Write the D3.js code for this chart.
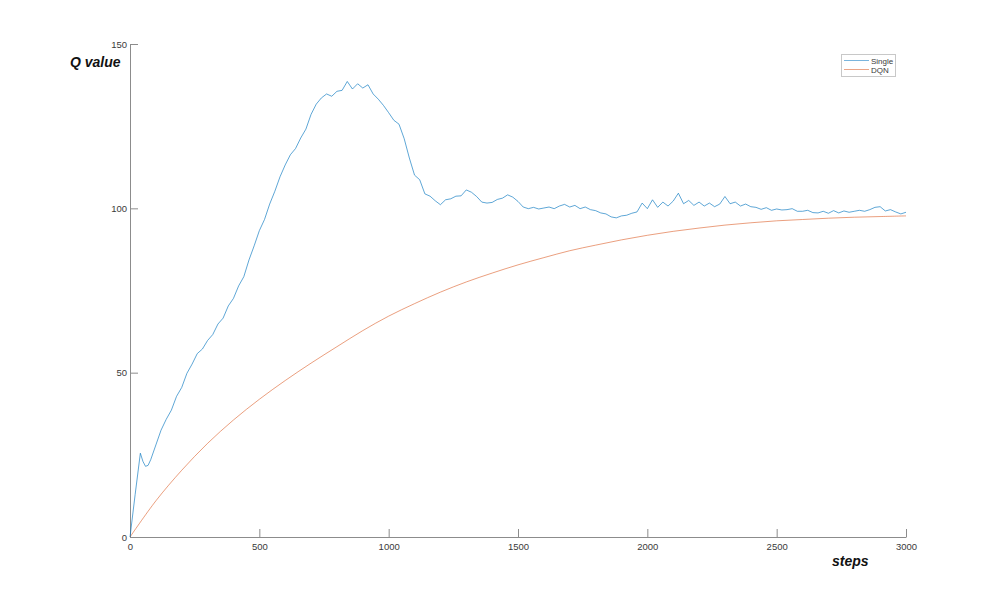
<!DOCTYPE html>
<html>
<head>
<meta charset="utf-8">
<script src="https://cdn.jsdelivr.net/npm/d3@7"></script>
<style>
html,body{margin:0;padding:0;background:#fff;}
svg{display:block;font-family:"Liberation Sans",Arial,sans-serif;}
</style>
</head>
<body>
<svg id="chart" width="1000" height="604"></svg>
<script>
// ---- data ----
const singleSteps = [0,20,40,50,60,70,80,100,120,140,160,180,200,220,240,260,280,300,320,340,360,380,400,420,440,460,480,500,520,540,560,580,600,620,640,660,680,700,720,740,760,780,800,820,840,860,880,900,920,940,960,980,1000,1020,1040,1060,1080,1100,1120,1140,1160,1180,1200,1220,1240,1260,1280,1300,1320,1340,1360,1380,1400,1420,1440,1460,1480,1500,1520,1540,1560,1580,1600,1620,1640,1660,1680,1700,1720,1740,1760,1780,1800,1820,1840,1860,1880,1900,1920,1940,1960,1980,2000,2020,2040,2060,2080,2100,2120,2140,2160,2180,2200,2220,2240,2260,2280,2300,2320,2340,2360,2380,2400,2420,2440,2460,2480,2500,2520,2540,2560,2580,2600,2620,2640,2660,2680,2700,2720,2740,2760,2780,2800,2820,2840,2860,2880,2900,2920,2940,2960,2980,3000];
const singleQ = [0,13,25.5,23,21.5,21.8,23.5,28,32.5,35.8,38.6,42.8,45.5,49.8,52.6,55.8,57.2,59.8,61.6,64.8,66.6,70.3,72.6,76.4,79.2,84.3,88.6,93.2,96.6,101.3,105.2,109.6,113.2,116.3,118.2,121.4,124.1,128.6,131.7,133.6,134.8,134.1,135.6,135.9,138.6,136.3,137.9,136.6,137.6,134.8,133.2,131.3,129.1,126.8,125.6,121.2,115.3,110.1,108.7,104.4,103.7,102.3,101.1,102.6,102.9,103.7,103.8,105.6,104.9,103.6,101.9,101.6,101.8,102.7,103.1,104.1,103.4,102.1,100.4,99.9,100.3,99.8,100.1,100.4,99.9,100.7,101.2,100.4,100.9,99.9,100.4,99.6,99.3,98.6,98.3,97.4,97.1,97.7,97.9,98.5,98.9,101.6,99.9,102.6,100.3,101.9,100.7,102.2,104.6,101.4,102.4,100.9,101.9,100.7,101.6,100.5,101.3,103.6,101.4,101.9,100.7,101.3,100.5,100.3,99.7,100.2,99.4,99.8,99.5,99.6,99.9,99.1,99.1,99.4,98.7,98.6,99.1,98.5,99.3,98.6,99.2,98.8,99.1,99.4,99.1,99.6,100.3,100.5,99.2,99.6,98.9,98.3,98.8];
const dqnSteps = [0,100,200,300,400,500,600,700,800,900,1000,1100,1200,1300,1400,1500,1600,1700,1800,1900,2000,2100,2200,2300,2400,2500,2600,2700,2800,2900,3000];
const dqnQ = [0,11,20.3,28.5,35.6,41.9,47.6,52.9,57.9,62.8,67.2,71,74.5,77.6,80.3,82.8,85,87.1,88.8,90.4,91.8,93,94,94.9,95.6,96.2,96.6,97,97.3,97.5,97.7];
const xTicks = [0,500,1000,1500,2000,2500,3000];
const yTicks = [0,50,100,150];
const seriesNames = ["Single","DQN"];
const seriesColors = ["#0072BD","#D95319"];

// ---- layout ----
const svg = d3.select("#chart");
const x = d3.scaleLinear().domain([0,3000]).range([130,906]);
const y = d3.scaleLinear().domain([0,150]).range([537,44]);
const axisColor = "#8c8c8c";
const textColor = "#3a3a3a";

const xAxis = svg.append("g").attr("transform","translate(0,537)")
  .call(d3.axisBottom(x).tickValues(xTicks).tickSizeInner(-8).tickSizeOuter(0).tickPadding(6).tickFormat(d3.format("d")));
const yAxis = svg.append("g").attr("transform","translate(130,0)")
  .call(d3.axisLeft(y).tickValues(yTicks).tickSizeInner(-8).tickSizeOuter(0).tickPadding(4).tickFormat(d3.format("d")));
[xAxis,yAxis].forEach(a=>{
  a.select(".domain").attr("stroke",axisColor).attr("stroke-width",1);
  a.selectAll(".tick line").attr("stroke",axisColor).attr("stroke-width",1);
  a.selectAll(".tick text").attr("fill",textColor).attr("font-size",9.5).attr("font-family","Liberation Sans, Arial, sans-serif");
});
yAxis.selectAll(".tick text").attr("x",-3);

const dqnData = dqnSteps.map((s,i)=>[s,dqnQ[i]]);
const singleData = singleSteps.map((s,i)=>[s,singleQ[i]]);

svg.append("path").datum(dqnData)
  .attr("d", d3.line().x(d=>x(d[0])).y(d=>y(d[1])).curve(d3.curveCatmullRom)(dqnData))
  .attr("fill","none").attr("stroke",seriesColors[1]).attr("stroke-width",0.7).attr("stroke-opacity",0.8);
svg.append("path").datum(singleData)
  .attr("d", d3.line().x(d=>x(d[0])).y(d=>y(d[1]))(singleData))
  .attr("fill","none").attr("stroke",seriesColors[0]).attr("stroke-width",0.7).attr("stroke-opacity",0.9);

// axis labels
svg.append("text").attr("x",70).attr("y",67).text("Q value")
  .attr("font-size",14).attr("font-weight","bold").attr("font-style","italic").attr("fill","#111");
svg.append("text").attr("x",832).attr("y",566).text("steps")
  .attr("font-size",14).attr("font-weight","bold").attr("font-style","italic").attr("fill","#111");

// legend
const lg = svg.append("g");
lg.append("rect").attr("x",841.5).attr("y",54.5).attr("width",54).attr("height",22)
  .attr("fill","#fff").attr("stroke","#c8c8c8").attr("stroke-width",1);
seriesNames.forEach((n,i)=>{
  const yy = 60.5 + i*9;
  lg.append("line").attr("x1",844).attr("x2",869).attr("y1",yy).attr("y2",yy)
    .attr("stroke",seriesColors[i]).attr("stroke-width",0.7).attr("stroke-opacity",0.75);
  lg.append("text").attr("x",871).attr("y",yy+3).text(n)
    .attr("font-size",8).attr("fill",textColor);
});
</script>
</body>
</html>
